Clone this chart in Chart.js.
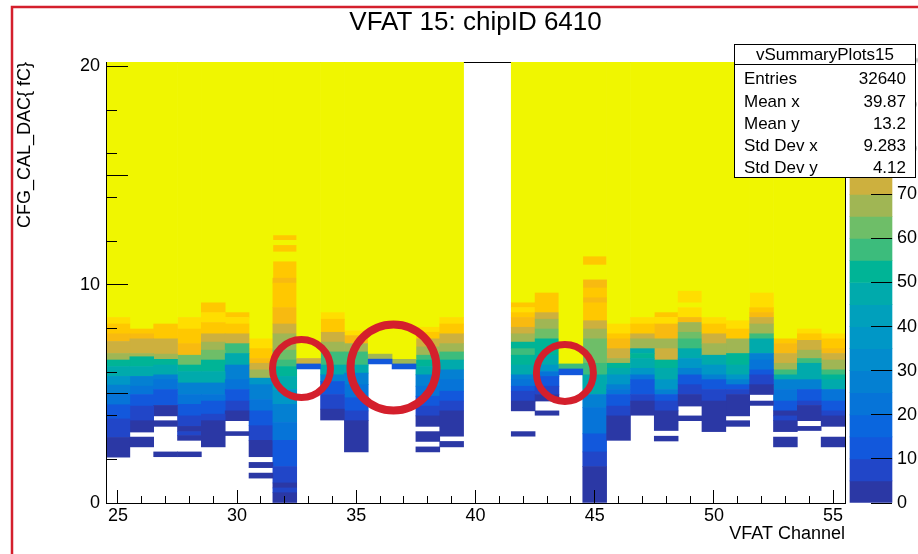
<!DOCTYPE html>
<html>
<head>
<meta charset="utf-8">
<script src="https://cdn.jsdelivr.net/npm/chart.js@4.4.1/dist/chart.umd.min.js"></script>
<style>
html,body{margin:0;padding:0;background:#fff;}
#wrap{width:918px;height:554px;position:relative;}
canvas{display:block;}
</style>
</head>
<body>
<div id="wrap"><canvas id="c" width="918" height="554"></canvas></div>
<script>
// ---------------- data ----------------
const channels = [25,26,27,28,29,30,31,32,33,34,35,36,37,38,39,40,41,42,43,44,45,46,47,48,49,50,51,52,53,54,55];
// each channel: bands from the bottom, [band top in fC, counts in the band]; 0 counts = empty
const ch25 = [[2.1,0],[3.0,2],[3.85,8],[4.5,13],[5.0,21],[5.4,28],[5.8,36],[6.25,46],[6.55,52],[6.85,68],[7.4,74],[7.75,80],[8.2,86],[8.5,92],[20.2,100]];
const ch26 = [[2.57,0],[3.02,2],[3.25,0],[3.77,2],[4.44,8],[4.97,13],[5.35,21],[5.8,28],[6.25,46],[6.7,52],[6.85,68],[7.52,74],[7.75,80],[7.97,86],[20.2,100]];
const ch27 = [[2.12,0],[2.34,2],[3.51,0],[3.77,2],[3.99,0],[4.47,2],[5.2,13],[5.65,21],[5.87,28],[6.32,46],[6.58,52],[6.82,68],[7.52,74],[8.2,86],[20.2,100]];
const ch28 = [[2.12,0],[2.34,2],[2.87,0],[3.09,2],[3.27,8],[3.51,2],[3.99,8],[4.52,13],[4.97,21],[5.5,28],[6.02,46],[6.32,52],[6.77,63],[7.3,80],[7.97,86],[8.5,92],[20.2,100]];
const ch29 = [[2.57,0],[3.77,2],[4.07,8],[4.67,13],[4.97,21],[5.5,28],[6.02,46],[6.55,52],[7.0,63],[7.37,68],[7.75,74],[8.27,86],[8.72,92],[9.17,86],[20.2,100]];
const ch30 = [[3.09,0],[3.27,2],[3.77,0],[4.22,2],[4.67,8],[5.2,13],[5.65,21],[6.32,28],[6.85,46],[7.3,58],[7.75,74],[8.2,86],[8.5,92],[8.72,86],[20.2,100]];
const ch31 = [[1.14,0],[1.37,2],[1.62,0],[1.86,2],[2.12,0],[2.87,2],[3.54,8],[4.22,13],[4.74,21],[5.42,28],[5.72,36],[6.1,66],[6.4,74],[6.62,80],[7.07,86],[7.52,92],[20.2,100]];
const ch32 = [[0.47,2],[0.69,8],[0.92,2],[1.67,8],[2.87,13],[3.69,21],[4.52,28],[5.2,36],[5.8,46],[6.25,52],[6.55,58],[7.0,63],[7.75,68],[8.2,74],[8.95,80],[10.07,86],[10.3,80],[11.05,86],[11.5,100],[11.8,86],[12.03,100],[12.25,86],[20.2,100]];
const ch33 = [[6.14,0],[6.37,13],[6.62,74],[20.2,100]];
const ch34 = [[3.8,0],[4.3,2],[4.97,8],[5.57,13],[5.87,28],[6.32,46],[6.92,58],[7.37,68],[7.82,74],[8.42,86],[8.72,92],[20.2,100]];
const ch35 = [[2.34,0],[3.77,2],[4.22,8],[4.82,13],[5.42,21],[5.95,28],[6.32,46],[6.92,58],[7.3,68],[7.67,80],[7.9,92],[20.2,100]];
const ch36 = [[6.37,0],[6.59,13],[6.82,66],[20.2,100]];
const ch37 = [[6.14,0],[6.37,13],[6.58,68],[20.2,100]];
const ch38 = [[2.34,0],[2.57,2],[2.82,0],[3.27,2],[3.51,0],[3.99,2],[4.44,8],[4.89,13],[5.35,21],[5.87,28],[6.25,46],[6.55,52],[6.77,58],[7.15,68],[7.52,74],[7.82,86],[8.05,92],[20.2,100]];
const ch39 = [[2.57,0],[2.82,2],[3.06,0],[4.22,2],[4.67,8],[5.12,13],[5.65,21],[6.1,28],[6.55,46],[6.92,58],[7.3,68],[7.75,74],[8.2,86],[8.5,92],[20.2,100]];
const ch40 = [];
const ch41 = [];
const ch42 = [[3.06,0],[3.27,2],[4.22,0],[4.67,2],[5.12,8],[5.35,13],[5.65,21],[5.87,28],[6.32,46],[6.77,52],[7.07,58],[7.37,52],[7.75,68],[8.05,74],[8.5,80],[8.72,86],[8.95,92],[9.17,86],[20.2,100]];
const ch43 = [[4.02,0],[4.22,2],[4.67,0],[4.97,2],[5.35,8],[5.8,13],[6.02,21],[6.32,36],[6.77,46],[7.52,52],[7.97,63],[8.42,68],[8.72,74],[9.62,86],[20.2,100]];
const ch44 = [[5.87,0],[6.14,13],[6.37,58],[20.2,100]];
const ch45 = [[1.67,2],[2.34,8],[3.17,13],[4.37,21],[4.97,28],[5.87,46],[6.4,58],[7.52,63],[7.97,68],[8.35,74],[9.17,86],[9.4,80],[9.85,86],[10.22,80],[10.9,100],[11.28,86],[20.2,100]];
const ch46 = [[2.87,0],[3.99,2],[4.44,8],[4.97,13],[5.2,21],[5.42,28],[5.87,36],[6.17,46],[6.4,52],[6.62,68],[7.07,74],[7.52,80],[7.75,86],[8.2,92],[20.2,100]];
const ch47 = [[4.02,0],[4.67,2],[4.97,8],[5.65,13],[5.87,21],[6.17,36],[6.62,46],[6.85,52],[7.07,46],[7.52,68],[7.75,74],[8.2,86],[8.5,92],[20.2,100]];
const ch48 = [[2.84,0],[3.06,2],[3.32,0],[4.22,2],[4.67,8],[4.97,13],[5.2,28],[5.65,36],[6.17,46],[6.55,52],[7.07,72],[7.52,68],[8.2,80],[8.5,92],[8.72,86],[20.2,100]];
const ch49 = [[3.77,0],[3.99,2],[4.44,0],[4.97,2],[5.42,8],[5.87,13],[6.17,28],[6.62,36],[7.07,46],[7.52,58],[7.82,63],[8.27,68],[8.5,80],[8.95,92],[9.17,100],[9.7,90],[20.2,100]];
const ch50 = [[3.27,0],[4.67,2],[5.2,8],[5.65,13],[5.87,28],[6.32,36],[6.77,46],[7.3,68],[7.75,74],[8.2,86],[8.5,92],[20.2,100]];
const ch51 = [[3.51,0],[3.77,2],[3.99,0],[4.97,2],[5.2,8],[5.42,13],[5.65,28],[5.87,36],[6.32,46],[6.85,52],[7.52,68],[7.97,86],[8.35,92],[20.2,100]];
const ch52 = [[4.47,0],[4.67,2],[4.97,0],[5.42,2],[5.87,8],[6.1,13],[6.55,21],[6.85,28],[7.52,46],[7.75,58],[8.2,68],[8.5,74],[8.72,80],[8.95,86],[9.62,92],[20.2,100]];
const ch53 = [[2.57,0],[3.02,2],[3.27,0],[3.77,2],[3.99,8],[4.22,2],[4.67,13],[5.2,21],[5.65,28],[5.87,46],[6.1,58],[6.4,68],[6.85,74],[7.3,80],[7.52,86],[20.2,100]];
const ch54 = [[3.32,0],[3.51,2],[3.77,0],[4.47,2],[4.67,8],[5.2,13],[5.65,28],[6.4,46],[6.62,58],[7.0,68],[7.45,74],[7.75,86],[7.97,92],[20.2,100]];
const ch55 = [[2.57,0],[3.02,2],[3.51,0],[3.99,2],[4.22,8],[4.67,13],[5.2,21],[5.65,46],[5.87,52],[6.1,58],[6.55,68],[6.85,74],[7.07,80],[7.52,86],[7.75,92],[20.2,100]];
const channelBands = [ch25,ch26,ch27,ch28,ch29,ch30,ch31,ch32,ch33,ch34,ch35,ch36,ch37,ch38,ch39,ch40,ch41,ch42,ch43,ch44,ch45,ch46,ch47,ch48,ch49,ch50,ch51,ch52,ch53,ch54,ch55];

const xMajorTicks = [25,30,35,40,45,50,55];
const yMajorTicks = [0,5,10,15,20];
const paletteLevels = [0,5,10,15,20,25,30,35,40,45,50,55,60,65,70,75,80,85,90,95,100];
const paletteColors = ['#2b38a5','#2146c8','#1258dc','#0a66de','#0674d8','#0480d2','#028ccd','#0097c6','#00a0bc','#00aaac',
                       '#00b496','#3cbc7c','#6ebe68','#a0b654','#cdb03e','#e8b228','#f8ba10','#ffc800','#ffde00','#f0f600'];
const circleX = [32.70, 36.56, 43.75];
const circleY = [6.16, 6.21, 5.96];
const statsName = 'vSummaryPlots15';
const statsLabels = ['Entries','Mean x','Mean y','Std Dev x','Std Dev y'];
const statsValues = ['32640','39.87','13.2','9.283','4.12'];

// ---------------- build ----------------
const Y_MAX = 20.2;
const FONT = "'Liberation Sans', Arial, Helvetica, sans-serif";
Chart.defaults.font.family = FONT;
Chart.defaults.color = '#000';

function colorFor(v) {
  let i = Math.floor(v / 5);
  if (i > 19) i = 19;
  if (i < 0) i = 0;
  return paletteColors[i];
}

const maxBands = Math.max(...channelBands.map(b => b.length));
const datasets = [];
for (let k = 0; k < maxBands; k++) {
  const data = [], colors = [];
  channelBands.forEach(bands => {
    const band = bands[k];
    if (!band || band[1] <= 0) { data.push(null); colors.push('rgba(0,0,0,0)'); return; }
    const bottom = k === 0 ? 0 : bands[k - 1][0];
    data.push([bottom, band[0]]);
    colors.push(colorFor(band[1]));
  });
  datasets.push({
    type: 'bar', data, backgroundColor: colors, borderWidth: 0,
    grouped: false, barPercentage: 1, categoryPercentage: 1,
    xAxisID: 'x', yAxisID: 'y', order: 5
  });
}

// colour palette (z axis)
datasets.push({
  type: 'bar',
  data: paletteColors.map((c, i) => ({x: 56.59, y: [paletteLevels[i], paletteLevels[i + 1]]})),
  backgroundColor: paletteColors, borderWidth: 0,
  grouped: false, barThickness: 42, clip: false,
  xAxisID: 'xl', yAxisID: 'yPal', order: 6
});

// red marker circles
datasets.push({
  type: 'scatter',
  data: circleX.map((x, i) => ({x, y: circleY[i]})),
  pointStyle: 'circle',
  pointRadius: [29, 43, 28.5],
  pointBorderWidth: [7, 8, 7],
  pointBorderColor: '#d41f2c',
  pointBackgroundColor: 'rgba(0,0,0,0)',
  xAxisID: 'xl', yAxisID: 'y', order: 0, clip: false
});

const statsPlugin = {
  id: 'statsbox',
  afterDraw(chart) {
    const ctx = chart.ctx;
    ctx.save();
    const bx = 734.5, by = 44.5, bw = 181, bh = 133;
    ctx.fillStyle = '#fff';
    ctx.fillRect(bx, by, bw, bh);
    ctx.strokeStyle = '#000';
    ctx.lineWidth = 1;
    ctx.strokeRect(bx, by, bw, bh);
    ctx.beginPath();
    ctx.moveTo(bx, 64.5); ctx.lineTo(bx + bw, 64.5); ctx.stroke();
    ctx.fillStyle = '#000';
    ctx.font = '17px ' + FONT;
    ctx.textBaseline = 'alphabetic';
    ctx.textAlign = 'center';
    ctx.fillText(statsName, bx + bw / 2, 60);
    const rowBase = [84, 106.5, 128.5, 151, 173];
    statsLabels.forEach((lab, i) => {
      ctx.textAlign = 'left';
      ctx.fillText(lab, 744, rowBase[i]);
      ctx.textAlign = 'right';
      ctx.fillText(statsValues[i], 906, rowBase[i]);
    });
    ctx.strokeStyle = '#d41f2c';
    ctx.lineWidth = 2.5;
    ctx.beginPath();
    ctx.moveTo(12, 554); ctx.lineTo(12, 7); ctx.lineTo(918, 7);
    ctx.stroke();
    ctx.restore();
  }
};

const tickFont = {family: FONT, size: 18};

new Chart(document.getElementById('c'), {
  type: 'bar',
  data: {labels: channels.map(String), datasets},
  options: {
    responsive: false, animation: false, devicePixelRatio: 1, events: [],
    layout: {padding: 0},
    plugins: {
      legend: {display: false},
      tooltip: {enabled: false},
      title: {
        display: true, text: 'VFAT 15: chipID 6410', fullSize: false,
        font: {family: FONT, size: 26, weight: 'normal'}, color: '#000',
        padding: {top: 7.7, bottom: 23.1}
      }
    },
    scales: {
      x: {
        type: 'category', position: 'bottom', offset: true,
        grid: {display: true, drawOnChartArea: false, drawTicks: true, tickLength: -7, offset: false, color: '#000', tickColor: '#000', z: 1},
        border: {display: true, color: '#000', width: 1, z: 1},
        ticks: {
          autoSkip: false, maxRotation: 0, minRotation: 0, padding: 9.5, font: tickFont, color: '#000',
          callback: (v, i) => xMajorTicks.includes(channels[i]) ? String(channels[i]) : ''
        },
        title: {display: true, text: 'VFAT Channel', align: 'end', font: tickFont, color: '#000', padding: {top: 0, bottom: 5.2}},
        afterFit: s => { s.height = 47; }
      },
      xl: {type: 'linear', display: false, position: 'bottom', min: 24.5, max: 55.5, offset: false, grid: {offset: false}},
      xMaj: {
        type: 'linear', axis: 'x', position: {y: 0}, min: 24.5, max: 55.5, offset: false,
        grid: {display: true, drawOnChartArea: false, tickLength: -13, color: '#000', z: 1, offset: false},
        border: {display: false},
        ticks: {display: false, stepSize: 5, includeBounds: false}
      },
      xTop: {
        type: 'linear', axis: 'x', position: {y: Y_MAX}, min: 24.5, max: 55.5, offset: false,
        grid: {display: false, offset: false},
        border: {display: true, color: '#000', width: 1, z: 0},
        ticks: {display: false}
      },
      y: {
        type: 'linear', position: 'left', min: 0, max: Y_MAX,
        grid: {display: true, drawOnChartArea: false, tickLength: -11, color: '#000', z: 1},
        border: {display: true, color: '#000', width: 1, z: 1},
        ticks: {
          stepSize: 1, includeBounds: false, padding: 17, font: tickFont, color: '#000',
          callback: v => yMajorTicks.includes(v) ? String(v) : ''
        },
        title: {display: true, text: 'CFG_CAL_DAC{ fC}', align: 'end', font: tickFont, color: '#000', padding: {top: 14.7, bottom: 0}},
        afterFit: s => { s.width = 106; }
      },
      yMaj: {
        type: 'linear', axis: 'y', position: {xl: 24.5}, min: 0, max: Y_MAX,
        grid: {display: true, drawOnChartArea: false, tickLength: -22, color: '#000', z: 1},
        border: {display: false},
        ticks: {display: false, stepSize: 5, includeBounds: false}
      },
      yPal: {
        type: 'linear', position: 'right', min: 0, max: 100,
        grid: {display: true, drawOnChartArea: false, tickLength: 47, tickBorderDash: [22, 200], tickBorderDashOffset: -25, color: '#000', z: 1},
        border: {display: true, color: '#000', width: 1, z: 1},
        ticks: {stepSize: 10, padding: 5, font: tickFont, color: '#000'},
        afterFit: s => { s.width = 73; }
      }
    }
  },
  plugins: [statsPlugin]
});
</script>
</body>
</html>
